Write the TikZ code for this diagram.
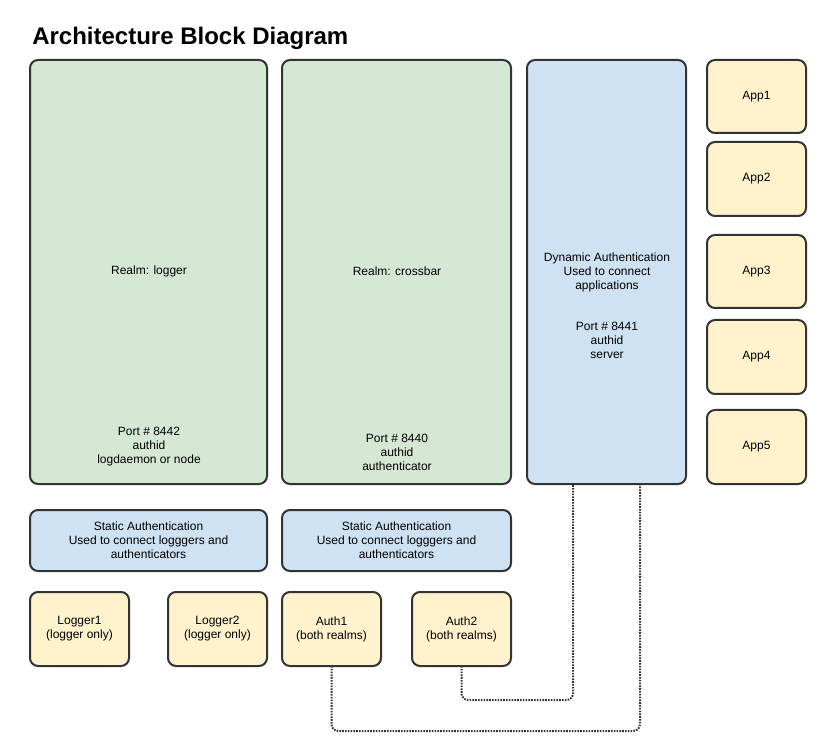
\documentclass[tikz,border=0pt]{standalone}
\usepackage{fontspec}
\setmainfont{Liberation Sans}
\definecolor{gfill}{HTML}{D5E8D4}
\definecolor{bfill}{HTML}{CFE2F3}
\definecolor{yfill}{HTML}{FFF2CC}
\definecolor{edge}{HTML}{333333}
\tikzset{
  box/.style={draw=edge, line width=1.5pt, rounded corners=6pt, inner sep=0pt, outer sep=0pt},
  gbox/.style={box, fill=gfill},
  bbox/.style={box, fill=bfill},
  ybox/.style={box, fill=yfill},
  txt/.style={font=\fontsize{9}{10.5}\selectfont, align=center, inner sep=0pt, text=black},
  link/.style={draw=edge, line width=1.5pt, dash pattern=on 1.2pt off 0.9pt, rounded corners=5pt}
}
\begin{document}
\begin{tikzpicture}[x=0.75pt,y=-0.75pt]
\useasboundingbox (0,0) rectangle (833,756);
\node[anchor=west, inner sep=0pt, font=\fontsize{18}{20}\selectfont\bfseries] (title) at (32,38) {Architecture Block Diagram};

% realm boxes
\node[gbox, minimum width=237*0.75pt, minimum height=424*0.75pt, anchor=north west] (logger) at (30,60) {};
\node[gbox, minimum width=229*0.75pt, minimum height=424*0.75pt, anchor=north west] (crossbar) at (282,60) {};
\node[bbox, minimum width=159*0.75pt, minimum height=424*0.75pt, anchor=north west] (dyn) at (527,60) {};

\node[txt] (loggerT) at (149,271) {Realm: logger};
\node[txt] (loggerP) at (149,447) {Port \# 8442\\authid\\logdaemon or node};
\node[txt] (crossT) at (397,271) {Realm: crossbar};
\node[txt] (crossP) at (397,452) {Port \# 8440\\authid\\authenticator};
\node[txt] (dynT) at (607,272) {Dynamic Authentication\\Used to connect\\applications};
\node[txt] (dynP) at (607,340) {Port \# 8441\\authid\\server};

% apps
\node[ybox, minimum width=99*0.75pt, minimum height=73*0.75pt, anchor=north west] (app1) at (707,60) {};
\node[ybox, minimum width=99*0.75pt, minimum height=74*0.75pt, anchor=north west] (app2) at (707,142) {};
\node[ybox, minimum width=99*0.75pt, minimum height=73*0.75pt, anchor=north west] (app3) at (707,235) {};
\node[ybox, minimum width=99*0.75pt, minimum height=74*0.75pt, anchor=north west] (app4) at (707,320) {};
\node[ybox, minimum width=99*0.75pt, minimum height=74*0.75pt, anchor=north west] (app5) at (707,410) {};
\node[txt] at (app1) {App1};
\node[txt] at (app2) {App2};
\node[txt] at (app3) {App3};
\node[txt] at (app4) {App4};
\node[txt] at (app5) {App5};

% static auth
\node[bbox, minimum width=237*0.75pt, minimum height=61*0.75pt, anchor=north west] (stat1) at (30,510) {};
\node[bbox, minimum width=229*0.75pt, minimum height=61*0.75pt, anchor=north west] (stat2) at (282,510) {};
\node[txt] at (stat1) {Static Authentication\\Used to connect logggers and\\authenticators};
\node[txt] at (stat2) {Static Authentication\\Used to connect logggers and\\authenticators};

% clients
\node[ybox, minimum width=99*0.75pt, minimum height=74*0.75pt, anchor=north west] (log1) at (30,592) {};
\node[ybox, minimum width=99*0.75pt, minimum height=74*0.75pt, anchor=north west] (log2) at (168,592) {};
\node[ybox, minimum width=99*0.75pt, minimum height=74*0.75pt, anchor=north west] (auth1) at (282,592) {};
\node[ybox, minimum width=99*0.75pt, minimum height=74*0.75pt, anchor=north west] (auth2) at (412,592) {};
\node[txt] at (log1) {Logger1\\(logger only)};
\node[txt] at (log2) {Logger2\\(logger only)};
\node[txt] at (auth1) {Auth1\\(both realms)};
\node[txt] at (auth2) {Auth2\\(both realms)};

% connectors
\coordinate (dynA) at (573,484);
\coordinate (dynB) at (640,484);
\draw[link] (auth2.south) -- (auth2.south |- 0,700) -- (dynA |- 0,700) -- (dynA);
\draw[link] (auth1.south) -- (auth1.south |- 0,731) -- (dynB |- 0,731) -- (dynB);
\end{tikzpicture}
\end{document}
